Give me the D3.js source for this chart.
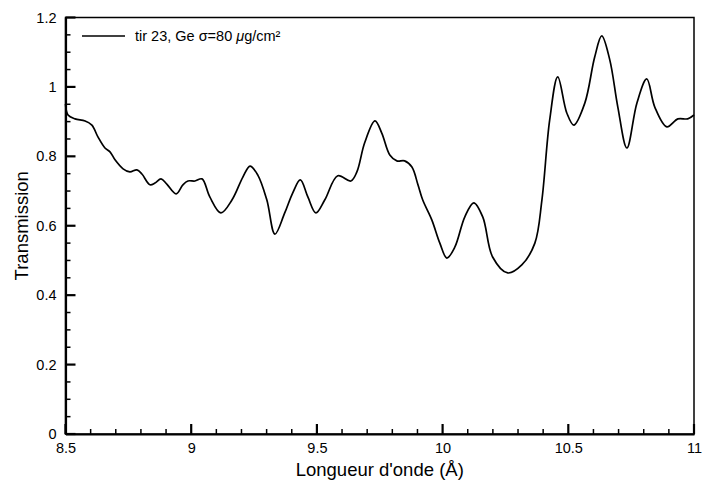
<!DOCTYPE html>
<html><head><meta charset="utf-8">
<script src="https://cdn.jsdelivr.net/npm/d3@7"></script>
<style>
body{margin:0;background:#fff;}
text{font-family:"Liberation Sans",Arial,Helvetica,sans-serif;fill:#000;}
</style></head>
<body><svg id="c" width="704" height="483"></svg>
<script>
const wavelength = [8.5,8.51,8.538,8.578,8.605,8.629,8.657,8.677,8.697,8.729,8.756,8.784,8.804,8.836,8.856,8.88,8.903,8.94,8.967,8.987,9.015,9.043,9.074,9.118,9.162,9.206,9.234,9.265,9.301,9.333,9.372,9.404,9.434,9.464,9.496,9.531,9.583,9.635,9.659,9.69,9.731,9.758,9.79,9.818,9.849,9.878,9.902,9.921,9.957,9.989,10.017,10.049,10.088,10.124,10.16,10.199,10.259,10.315,10.367,10.395,10.426,10.458,10.494,10.522,10.566,10.605,10.633,10.665,10.697,10.733,10.773,10.812,10.844,10.892,10.936,10.975,11.0];
const transmission = [0.951,0.919,0.908,0.902,0.89,0.856,0.824,0.813,0.79,0.764,0.755,0.761,0.749,0.718,0.723,0.735,0.72,0.692,0.718,0.729,0.729,0.735,0.683,0.637,0.674,0.741,0.772,0.746,0.674,0.576,0.637,0.695,0.732,0.683,0.637,0.674,0.744,0.729,0.755,0.839,0.902,0.867,0.804,0.787,0.787,0.769,0.718,0.674,0.617,0.55,0.507,0.539,0.625,0.666,0.625,0.51,0.464,0.487,0.55,0.674,0.905,1.029,0.925,0.89,0.954,1.086,1.147,1.078,0.942,0.824,0.954,1.023,0.942,0.885,0.908,0.908,0.919];
const xMajor = [8.5,9,9.5,10,10.5,11];
const yMajor = [0,0.2,0.4,0.6,0.8,1,1.2];
const seriesLabel = "tir 23, Ge σ=80 ";
const xTitle = "Longueur d'onde (Å)";
const yTitle = "Transmission";

const svg = d3.select("#c");
const x = d3.scaleLinear().domain([8.5,11]).range([65.5,694]);
const y = d3.scaleLinear().domain([0,1.2]).range([434,17.5]);

const xMinor = d3.range(8.5,11.0001,0.1).map(v=>+v.toFixed(2)).filter(v=>!xMajor.some(m=>Math.abs(m-v)<1e-6));
const yMinor = d3.range(0,1.2001,0.05).map(v=>+v.toFixed(2)).filter(v=>!yMajor.some(m=>Math.abs(m-v)<1e-6));

svg.append("rect").attr("x",x(8.5)).attr("y",y(1.2)).attr("width",x(11)-x(8.5)).attr("height",y(0)-y(1.2))
  .attr("fill","none").attr("stroke","#000").attr("stroke-width",1.5);

const fmt = d=> String(d);
const gy = svg.append("g").attr("transform",`translate(${x(8.5)},0)`)
  .call(d3.axisLeft(y).tickValues(yMajor).tickSize(0).tickPadding(9).tickFormat(fmt));
const gx = svg.append("g").attr("transform",`translate(0,${y(0)})`)
  .call(d3.axisBottom(x).tickValues(xMajor).tickSize(0).tickPadding(9).tickFormat(fmt));
[gy,gx].forEach(g=>{
  g.select(".domain").attr("stroke","#000").attr("stroke-width",2.2);
  g.selectAll("text").attr("font-size",14.5).attr("font-family","Liberation Sans, Arial, sans-serif").attr("fill","#000");
});

const tk = svg.append("g").attr("stroke","#000");
tk.selectAll(".ymaj").data(yMajor).join("line").attr("class","ymaj")
  .attr("x1",x(8.5)).attr("x2",x(8.5)+10).attr("y1",d=>y(d)).attr("y2",d=>y(d)).attr("stroke-width",2.2);
tk.selectAll(".ymin").data(yMinor).join("line").attr("class","ymin")
  .attr("x1",x(8.5)).attr("x2",x(8.5)+5).attr("y1",d=>y(d)).attr("y2",d=>y(d)).attr("stroke-width",1.5);
tk.selectAll(".xmaj").data(xMajor).join("line").attr("class","xmaj")
  .attr("x1",d=>x(d)).attr("x2",d=>x(d)).attr("y1",y(0)).attr("y2",y(0)-10).attr("stroke-width",2.2);
tk.selectAll(".xmin").data(xMinor).join("line").attr("class","xmin")
  .attr("x1",d=>x(d)).attr("x2",d=>x(d)).attr("y1",y(0)).attr("y2",y(0)-5).attr("stroke-width",1.5);

const pts = wavelength.map((w,i)=>[w,transmission[i]]);
svg.append("path").datum(pts)
  .attr("fill","none").attr("stroke","#000").attr("stroke-width",1.7)
  .attr("d", d3.line().x(d=>x(d[0])).y(d=>y(d[1])).curve(d3.curveCatmullRom.alpha(0.5)));

svg.append("line").attr("x1",82).attr("x2",125).attr("y1",36).attr("y2",36).attr("stroke","#000").attr("stroke-width",1.7);
const lt = svg.append("text").attr("x",135).attr("y",41).attr("font-size",14.5);
lt.append("tspan").text(seriesLabel);
lt.append("tspan").attr("font-style","italic").text("μ");
lt.append("tspan").text("g/cm²");

svg.append("text").attr("x",(x(8.5)+x(11))/2).attr("y",476).attr("text-anchor","middle").attr("font-size",18.5).text(xTitle);
svg.append("text").attr("transform",`translate(28,${y(0.6)}) rotate(-90)`).attr("text-anchor","middle").attr("font-size",18.5).text(yTitle);
</script></body></html>
